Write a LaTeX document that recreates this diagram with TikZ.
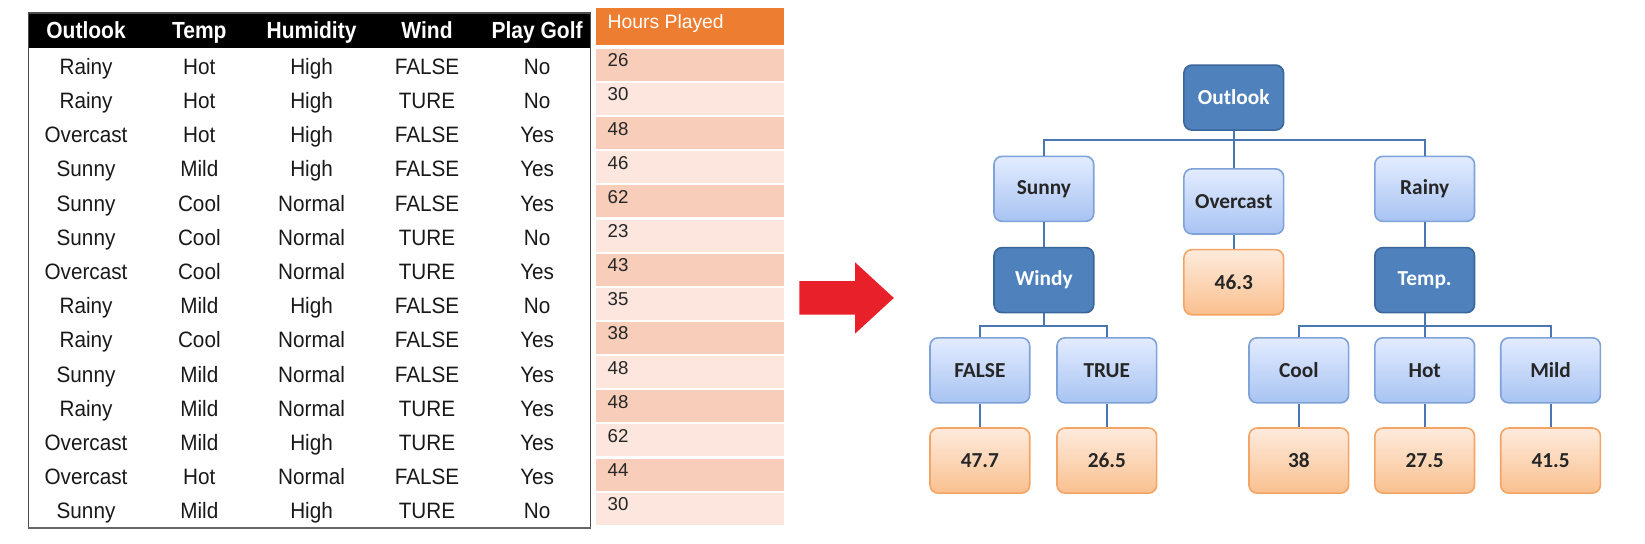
\documentclass[tikz,border=0pt]{standalone}
\usepackage{fontspec}
\setmainfont{Liberation Sans}
\newfontfamily\bodyfont[FakeStretch=0.93]{Liberation Sans}
\newfontfamily\headfont[FakeStretch=0.90]{Liberation Sans}
\newfontfamily\treefont{Carlito}
\definecolor{darkblue}{HTML}{4F81BD}
\definecolor{darkblueb}{HTML}{3B6699}
\definecolor{lightT}{HTML}{E3ECFF}
\definecolor{lightB}{HTML}{A8C3F2}
\definecolor{lightb}{HTML}{7FA2D9}
\definecolor{orT}{HTML}{FDEBDD}
\definecolor{orB}{HTML}{FAC08F}
\definecolor{orb}{HTML}{F4A566}
\definecolor{edgec}{HTML}{4A77B2}
\definecolor{hdrorange}{HTML}{ED7D31}
\definecolor{pinkA}{HTML}{F8CDB9}
\definecolor{pinkB}{HTML}{FCE6DE}
\definecolor{arrowred}{HTML}{E8202A}
\tikzset{
  box/.style={rounded corners=6pt, minimum width=95*0.7869pt, minimum height=62*0.7869pt, inner sep=0pt, line width=1.2pt, font=\treefont\bfseries\fontsize{16}{18}\selectfont},
  dark/.style={box, fill=darkblue, draw=darkblueb, text=white},
  light/.style={box, top color=lightT, bottom color=lightB, draw=lightb, text=black!85},
  leaf/.style={box, top color=orT, bottom color=orB, draw=orb, text=black!85},
  edge/.style={draw=edgec, line width=1.5pt},
  cell/.style={font=\bodyfont\fontsize{16.7}{18}\selectfont, inner sep=0pt, text height=0.72em, text depth=0.21em, text=black!90},
  hcell/.style={font=\headfont\bfseries\fontsize{17.5}{19}\selectfont, inner sep=0pt, text height=0.72em, text depth=0.21em, text=white},
  hours/.style={font=\fontsize{14}{16}\selectfont, inner sep=0pt, anchor=west, text height=0.72em, text depth=0em, text=black!85}
}
\begin{document}
\begin{tikzpicture}[x=0.7869pt,y=-0.7869pt]
\useasboundingbox (0,0) rectangle (1568,517.6);
\fill[white] (0,0) rectangle (1568,517.6);
% table
\fill[black] (27,12.5) rectangle (563,45.5);
\draw[black!70, line width=1pt] (27,12.5) rectangle (563,503);
\draw[black!60, line width=1.6pt] (27,503) -- (563,503);
\foreach \t [count=\c] in {Outlook,Temp,Humidity,Wind,Play Golf}{
  \pgfmathsetmacro{\cx}{{82,190,297,407,512}[\c-1]}
  \node[hcell] (h-\c) at (\cx,33.5) {\t};
}
\foreach \a/\b/\cc/\d/\e [count=\r] in {
 Rainy/Hot/High/FALSE/No,
 Rainy/Hot/High/TURE/No,
 Overcast/Hot/High/FALSE/Yes,
 Sunny/Mild/High/FALSE/Yes,
 Sunny/Cool/Normal/FALSE/Yes,
 Sunny/Cool/Normal/TURE/No,
 Overcast/Cool/Normal/TURE/Yes,
 Rainy/Mild/High/FALSE/No,
 Rainy/Cool/Normal/FALSE/Yes,
 Sunny/Mild/Normal/FALSE/Yes,
 Rainy/Mild/Normal/TURE/Yes,
 Overcast/Mild/High/TURE/Yes,
 Overcast/Hot/Normal/FALSE/Yes,
 Sunny/Mild/High/TURE/No}{
  \pgfmathsetmacro{\ry}{67.5+(\r-1)*32.6}
  \node[cell] (c-\r-1) at (82,\ry) {\a};
  \node[cell] (c-\r-2) at (190,\ry) {\b};
  \node[cell] (c-\r-3) at (297,\ry) {\cc};
  \node[cell] (c-\r-4) at (407,\ry) {\d};
  \node[cell] (c-\r-5) at (512,\ry) {\e};
}
% hours column
\fill[hdrorange] (568,8) rectangle (747,43);
\node[font=\fontsize{14.5}{16}\selectfont, text=white, anchor=west, inner sep=0pt, text height=0.72em, text depth=0em] (hp) at (579,22.5) {Hours Played};
\foreach \v [count=\r] in {26,30,48,46,62,23,43,35,38,48,48,62,44,30}{
  \pgfmathsetmacro{\ty}{46.5+(\r-1)*32.55}
  \pgfmathsetmacro{\by}{\ty+30.5}
  \ifodd\r \def\pc{pinkA}\else\def\pc{pinkB}\fi
  \fill[\pc] (568,\ty) rectangle (747,\by);
  \node[hours] (v-\r) at (579,\ty+12.5) {\v};
}
% arrow
\fill[arrowred] (762,268) -- (815,268) -- (815,250) -- (852,284) -- (815,318) -- (815,300) -- (762,300) -- cycle;
% tree
\node[dark] (outlook) at (1176,93) {Outlook};
\node[light] (sunny) at (995,180) {Sunny};
\node[light] (overcast) at (1176,192) {Overcast};
\node[light] (rainy) at (1358,180) {Rainy};
\node[dark] (windy) at (995,267) {Windy};
\node[leaf] (l463) at (1176,269) {46.3};
\node[dark] (temp) at (1358,267) {Temp.};
\node[light] (false) at (934,353) {FALSE};
\node[light] (true) at (1055,353) {TRUE};
\node[light] (cool) at (1238,353) {Cool};
\node[light] (hot) at (1358,353) {Hot};
\node[light] (mild) at (1478,353) {Mild};
\node[leaf] (l477) at (934,439) {47.7};
\node[leaf] (l265) at (1055,439) {26.5};
\node[leaf] (l38) at (1238,439) {38};
\node[leaf] (l275) at (1358,439) {27.5};
\node[leaf] (l415) at (1478,439) {41.5};
\coordinate (j1) at (1176,133);
\coordinate (j2) at (995,311);
\coordinate (j3) at (1358,311);
\draw[edge] (outlook.south) -- (overcast.north);
\draw[edge] (sunny.north) |- (j1) -| (rainy.north);
\draw[edge] (sunny.south) -- (windy.north);
\draw[edge] (overcast.south) -- (l463.north);
\draw[edge] (rainy.south) -- (temp.north);
\draw[edge] (windy.south) -- (j2);
\draw[edge] (false.north) |- (j2) -| (true.north);
\draw[edge] (temp.south) -- (hot.north);
\draw[edge] (cool.north) |- (j3) -| (mild.north);
\draw[edge] (false.south) -- (l477.north);
\draw[edge] (true.south) -- (l265.north);
\draw[edge] (cool.south) -- (l38.north);
\draw[edge] (hot.south) -- (l275.north);
\draw[edge] (mild.south) -- (l415.north);
\end{tikzpicture}
\end{document}
